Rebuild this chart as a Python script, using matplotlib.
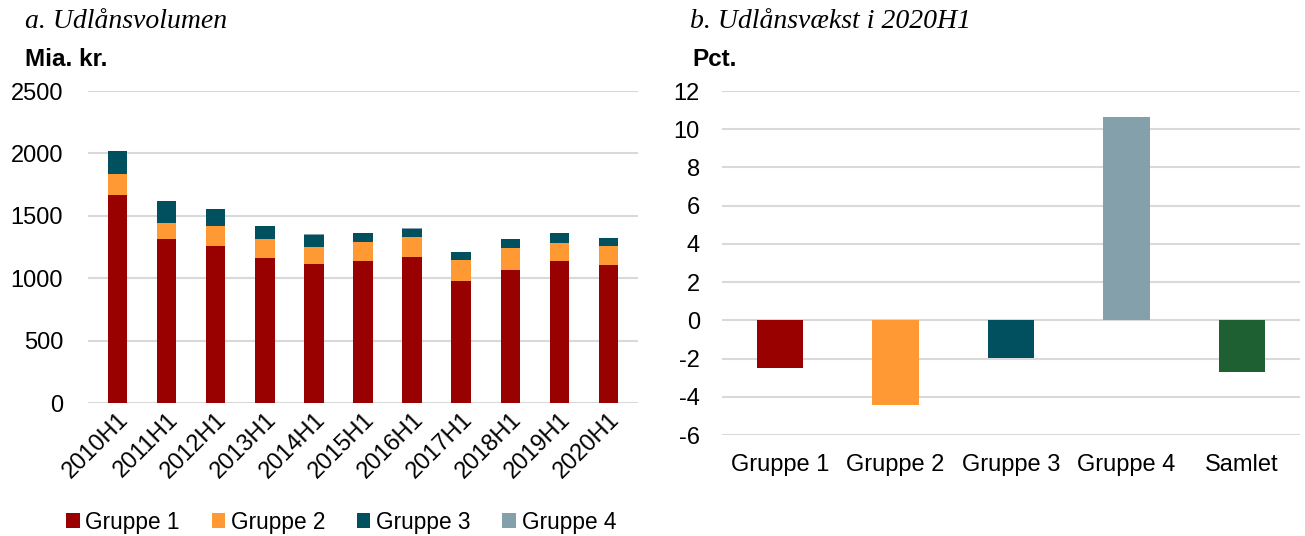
import matplotlib
matplotlib.use("Agg")
import matplotlib.pyplot as plt
import numpy as np

plt.rcParams.update({
    "font.family": ["Liberation Sans", "DejaVu Sans"],
    "font.size": 16,
    "axes.unicode_minus": False,
})

# ── Data ──────────────────────────────────────────────
periods = ["2010H1", "2011H1", "2012H1", "2013H1", "2014H1", "2015H1",
           "2016H1", "2017H1", "2018H1", "2019H1", "2020H1"]
gruppe1 = [1668, 1316, 1260, 1164, 1116, 1140, 1172, 980, 1068, 1135, 1108]
gruppe2 = [166, 126, 160, 147, 136, 149, 155, 163, 173, 149, 152]
gruppe3 = [184, 176, 131, 107, 96, 72, 69, 66, 70, 75, 61]
gruppe4 = [5, 4, 4, 4, 4, 4, 4, 4, 4, 4, 4]

growth_labels = ["Gruppe 1", "Gruppe 2", "Gruppe 3", "Gruppe 4", "Samlet"]
growth_values = [-2.5, -4.45, -1.95, 10.65, -2.7]

series_names = ["Gruppe 1", "Gruppe 2", "Gruppe 3", "Gruppe 4"]
colors = ["#990000", "#FF9933", "#005060", "#84A0AA"]
growth_colors = colors + ["#1F6032"]
grid_col = "#D9D9D9"
tick_fs = 17

fig = plt.figure(figsize=(13.05, 5.36), dpi=100)

# ── Panel a: stacked volume ───────────────────────────
ax1 = fig.add_axes([88 / 1305, 1 - 403 / 536, 550 / 1305, 312 / 536])
x = np.arange(len(periods))
bottom = np.zeros(len(periods))
for vals, name, c in zip([gruppe1, gruppe2, gruppe3, gruppe4], series_names, colors):
    ax1.bar(x, vals, bottom=bottom, width=0.4, color=c, label=name, zorder=3)
    bottom += np.array(vals)

ax1.set_ylim(0, 2500)
ax1.set_yticks(range(0, 2501, 500))
ax1.set_xlim(-0.6, len(periods) - 0.4)
ax1.set_xticks(x)
ax1.set_xticklabels(periods, rotation=45, ha="right", rotation_mode="anchor")
ax1.grid(axis="y", color=grid_col, linewidth=1.5, zorder=0)
for s in ax1.spines.values():
    s.set_visible(False)
ax1.tick_params(length=0, labelsize=tick_fs)
ax1.tick_params(axis="y", pad=18)
ax1.tick_params(axis="x", pad=4)

fig.text(25 / 1305, 1 - 22 / 536, "a. Udlånsvolumen", family="Liberation Serif",
         style="italic", fontsize=20, va="center")
fig.text(25 / 1305, 1 - 60 / 536, "Mia. kr.", fontweight="bold", fontsize=17.5, va="center")

ax1.legend(loc="center", bbox_to_anchor=(341 / 1305, 1 - 522 / 536),
           bbox_transform=fig.transFigure, ncol=4, frameon=False,
           handlelength=0.6, handleheight=0.6, handletextpad=0.25,
           columnspacing=1.4, fontsize=16.3)

# ── Panel b: growth ───────────────────────────────────
ax2 = fig.add_axes([722 / 1305, 1 - 435 / 536, 578 / 1305, 344 / 536])
xg = np.arange(len(growth_labels))
ax2.bar(xg, growth_values, width=0.4, color=growth_colors, zorder=3)
ax2.set_ylim(-6, 12)
ax2.set_yticks(range(-6, 13, 2))
ax2.set_xlim(-0.5, len(growth_labels) - 0.5)
ax2.set_xticks(xg)
ax2.set_xticklabels(growth_labels)
ax2.grid(axis="y", color=grid_col, linewidth=1.5, zorder=0)
for s in ax2.spines.values():
    s.set_visible(False)
ax2.tick_params(length=0, labelsize=tick_fs)
ax2.tick_params(axis="y", pad=16)
ax2.tick_params(axis="x", pad=14)

fig.text(690 / 1305, 1 - 22 / 536, "b. Udlånsvækst i 2020H1", family="Liberation Serif",
         style="italic", fontsize=20, va="center")
fig.text(692 / 1305, 1 - 60 / 536, "Pct.", fontweight="bold", fontsize=17.5, va="center")

fig.savefig("out.png", dpi=100)
